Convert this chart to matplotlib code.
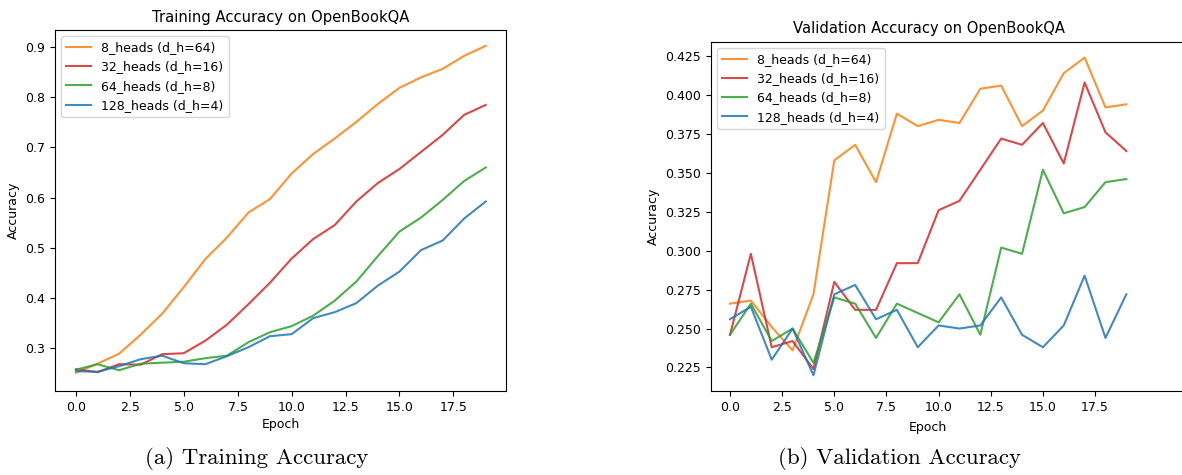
import numpy as np
import matplotlib.pyplot as plt

epochs = np.arange(20)

labels = ["8_heads (d_h=64)", "32_heads (d_h=16)", "64_heads (d_h=8)", "128_heads (d_h=4)"]
colors = ["tab:orange", "tab:red", "tab:green", "tab:blue"]

# training accuracy per epoch
train_8 = [0.250, 0.268, 0.288, 0.326, 0.368, 0.421, 0.477, 0.520, 0.570, 0.597,
           0.648, 0.687, 0.718, 0.751, 0.787, 0.819, 0.840, 0.857, 0.883, 0.903]
train_32 = [0.257, 0.251, 0.267, 0.266, 0.287, 0.289, 0.314, 0.346, 0.387, 0.430,
            0.478, 0.517, 0.545, 0.592, 0.629, 0.657, 0.691, 0.725, 0.765, 0.785]
train_64 = [0.256, 0.267, 0.255, 0.268, 0.270, 0.272, 0.279, 0.284, 0.311, 0.331,
            0.343, 0.364, 0.394, 0.432, 0.483, 0.532, 0.560, 0.595, 0.633, 0.660]
train_128 = [0.253, 0.252, 0.263, 0.277, 0.284, 0.269, 0.267, 0.283, 0.301, 0.323,
             0.327, 0.359, 0.371, 0.389, 0.424, 0.452, 0.495, 0.514, 0.558, 0.592]

# validation accuracy per epoch
val_8 = [0.266, 0.268, 0.251, 0.236, 0.272, 0.358, 0.368, 0.344, 0.388, 0.380,
         0.384, 0.382, 0.404, 0.406, 0.380, 0.390, 0.414, 0.424, 0.392, 0.394]
val_32 = [0.246, 0.298, 0.238, 0.242, 0.224, 0.280, 0.262, 0.262, 0.292, 0.292,
          0.326, 0.332, 0.352, 0.372, 0.368, 0.382, 0.356, 0.408, 0.376, 0.364]
val_64 = [0.246, 0.266, 0.242, 0.250, 0.228, 0.270, 0.266, 0.244, 0.266, 0.260,
          0.254, 0.272, 0.246, 0.302, 0.298, 0.352, 0.324, 0.328, 0.344, 0.346]
val_128 = [0.256, 0.264, 0.230, 0.250, 0.220, 0.272, 0.278, 0.256, 0.262, 0.238,
           0.252, 0.250, 0.252, 0.270, 0.246, 0.238, 0.252, 0.284, 0.244, 0.272]

train = [train_8, train_32, train_64, train_128]
val = [val_8, val_32, val_64, val_128]

W, H = 1182, 475
fig = plt.figure(figsize=(W / 100, H / 100), dpi=100)

fs = 9
ax1 = fig.add_axes([55 / W, 1 - 391 / H, (506 - 55) / W, (391 - 30) / H])
for y, lab, c in zip(train, labels, colors):
    ax1.plot(epochs, y, color=c, label=lab, alpha=0.85, lw=1.5)
ax1.set_xlim(-0.97, 19.94)
ax1.set_ylim(0.2135, 0.9346)
ax1.set_xticks(np.arange(0, 18, 2.5))
ax1.set_title("Training Accuracy on OpenBookQA", fontsize=10.6)
ax1.set_xlabel("Epoch", fontsize=fs, labelpad=3)
ax1.set_ylabel("Accuracy", fontsize=fs)
ax1.tick_params(labelsize=fs)
ax1.legend(loc="upper left", fontsize=fs)

# right panel runs past the figure edge
x0, px_ep = 730, 20.86
left, right = 711, 1260
ax2 = fig.add_axes([left / W, 1 - 391 / H, (right - left) / W, (391 - 41.7) / H])
for y, lab, c in zip(val, labels, colors):
    ax2.plot(epochs, y, color=c, label=lab, alpha=0.85, lw=1.5)
ax2.set_xlim(-(x0 - left) / px_ep, (right - x0) / px_ep)
ax2.set_ylim(0.2099, 0.4342)
ax2.set_xticks(np.arange(0, 18, 2.5))
ax2.set_yticks(np.arange(0.225, 0.426, 0.025))
ax2.set_title("Validation Accuracy on OpenBookQA", fontsize=10.6,
              x=(928.7 - left) / (right - left))
ax2.set_xlabel("Epoch", fontsize=fs, labelpad=3)
ax2.xaxis.set_label_coords((928 - left) / (right - left), -0.085)
ax2.set_ylabel("Accuracy", fontsize=fs)
ax2.tick_params(labelsize=fs)
ax2.legend(loc="upper left", fontsize=fs)

fig.text(257 / W, 1 - 459 / H, "(a) Training Accuracy", family="cmr10",
         fontsize=16.5, ha="center", va="center")
fig.text(899 / W, 1 - 459 / H, "(b) Validation Accuracy", family="cmr10",
         fontsize=16.5, ha="center", va="center")

fig.savefig("out.png", dpi=100)
